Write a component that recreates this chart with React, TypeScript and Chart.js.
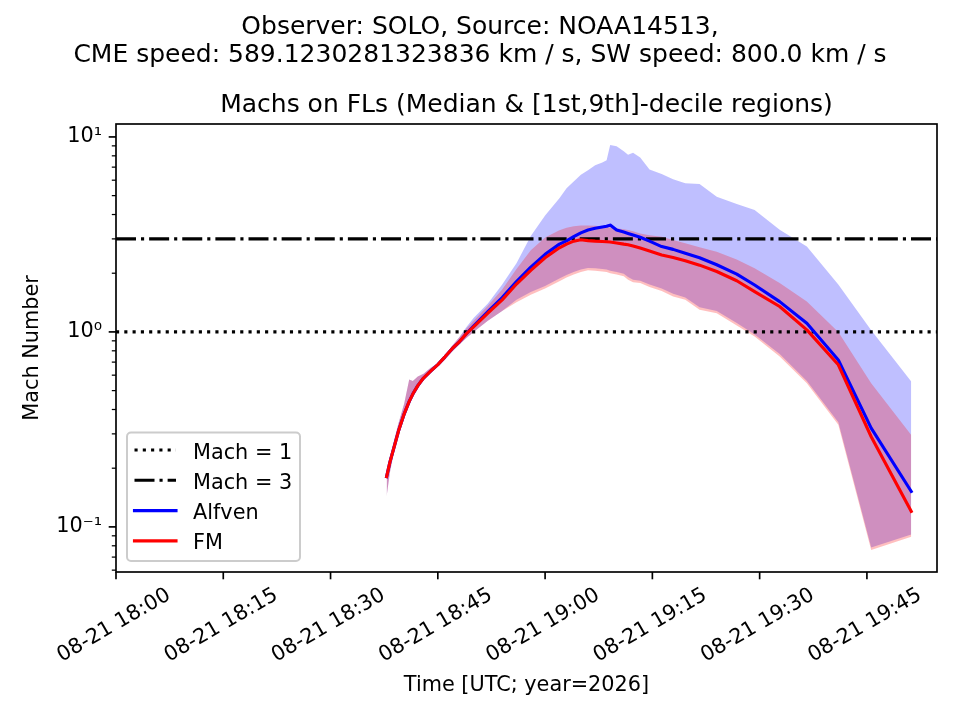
import React, { useEffect, useRef } from "react";
import { Chart, registerables } from "chart.js";

Chart.register(...registerables);

// ---------- text ----------
const SUPTITLE = [
  "Observer: SOLO, Source: NOAA14513,",
  "CME speed: 589.1230281323836 km / s, SW speed: 800.0 km / s",
];
const AX_TITLE = "Machs on FLs (Median & [1st,9th]-decile regions)";
const X_LABEL = "Time [UTC; year=2026]";
const Y_LABEL = "Mach Number";
const DATE_PREFIX = "08-21";
const START_HOUR = 18;

// ---------- axes ----------
const X_MIN = 0; // minutes after 18:00
const X_MAX = 114.8;
const Y_MIN = 0.0587;
const Y_MAX = 11.65;
const X_TICKS = [0, 15, 30, 45, 60, 75, 90, 105];
const Y_MAJOR = [0.1, 1, 10];
const Y_LABELS = ["10\u207B\u00B9", "10\u2070", "10\u00B9"];
const Y_MINOR = [0.06, 0.07, 0.08, 0.09, 0.2, 0.3, 0.4, 0.5, 0.6, 0.7, 0.8, 0.9, 2, 3, 4, 5, 6, 7, 8, 9];
const MACH_LEVELS = [1, 3];

// ---------- data (minutes after 18:00 UTC) ----------
const times = [
  37.84, 38.3, 38.8, 39.5, 40.3, 41.0, 41.5, 42.2, 43.0, 44.0,
  45.0, 46.0, 47.0, 48.0, 49.0, 50.0, 52.0, 54.0, 56.0, 58.0,
  60.0, 62.0, 63.0, 64.0, 65.0, 66.0, 67.0, 68.0, 68.6, 69.1,
  70.0, 71.0, 71.6, 72.3, 73.3, 74.6, 76.3, 77.9, 79.6, 81.6,
  84.0, 86.8, 89.3, 92.8, 96.6, 101.0, 105.6, 111.2,
];
const alfvenMedian = [
  0.181, 0.215, 0.25, 0.31, 0.38, 0.44, 0.48, 0.53, 0.58, 0.63,
  0.68, 0.745, 0.82, 0.89, 0.98, 1.07, 1.27, 1.5, 1.81, 2.15,
  2.5, 2.82, 2.93, 3.08, 3.22, 3.33, 3.4, 3.45, 3.48, 3.53,
  3.33, 3.25, 3.2, 3.14, 3.06, 2.92, 2.74, 2.65, 2.53, 2.4,
  2.21, 1.98, 1.74, 1.43, 1.108, 0.718, 0.321, 0.152,
];
const fmMedian = [
  0.181, 0.215, 0.25, 0.31, 0.38, 0.44, 0.48, 0.53, 0.58, 0.63,
  0.68, 0.745, 0.82, 0.89, 0.98, 1.06, 1.25, 1.46, 1.76, 2.07,
  2.4, 2.7, 2.82, 2.92, 2.97, 2.94, 2.92, 2.91, 2.9, 2.89,
  2.86, 2.82, 2.8, 2.76, 2.69, 2.6, 2.48, 2.41, 2.32, 2.2,
  2.04, 1.83, 1.61, 1.35, 1.024, 0.678, 0.29, 0.12,
];
const alfvenUpper = [
  0.19, 0.23, 0.27, 0.34, 0.43, 0.57, 0.56, 0.59, 0.61, 0.655,
  0.69, 0.76, 0.85, 0.94, 1.06, 1.18, 1.4, 1.75, 2.25, 3.1,
  3.95, 4.85, 5.45, 5.9, 6.4, 6.75, 7.15, 7.4, 7.6, 9.08,
  8.95, 8.45, 8.1, 8.3, 7.85, 6.8, 6.45, 6.06, 5.79, 5.74,
  4.94, 4.53, 4.22, 3.34, 2.74, 1.75, 1.02, 0.556,
];
const alfvenLower = [
  0.143, 0.19, 0.235, 0.295, 0.36, 0.42, 0.46, 0.51, 0.565, 0.615,
  0.665, 0.72, 0.79, 0.86, 0.93, 1.0, 1.14, 1.28, 1.46, 1.6,
  1.72, 1.88, 1.96, 2.03, 2.09, 2.13, 2.12, 2.1, 2.09, 2.06,
  2.03, 1.99, 1.91, 1.85, 1.83, 1.75, 1.67, 1.57, 1.5, 1.34,
  1.28, 1.11, 0.97, 0.77, 0.56, 0.344, 0.0785, 0.0915,
];
const fmUpper = [
  0.19, 0.23, 0.27, 0.34, 0.43, 0.57, 0.56, 0.59, 0.61, 0.655,
  0.69, 0.76, 0.85, 0.94, 1.04, 1.14, 1.36, 1.65, 2.1, 2.62,
  3.05, 3.32, 3.42, 3.48, 3.51, 3.51, 3.5, 3.47, 3.45, 3.43,
  3.4, 3.36, 3.33, 3.28, 3.2, 3.13, 3.08, 2.96, 2.85, 2.72,
  2.58, 2.35, 2.12, 1.78, 1.43, 1.0, 0.545, 0.296,
];
const fmLower = [
  0.143, 0.19, 0.235, 0.295, 0.36, 0.42, 0.46, 0.51, 0.565, 0.615,
  0.665, 0.72, 0.79, 0.86, 0.93, 1.0, 1.14, 1.28, 1.42, 1.55,
  1.67, 1.82, 1.9, 1.97, 2.03, 2.07, 2.06, 2.04, 2.03, 2.0,
  1.97, 1.93, 1.85, 1.8, 1.78, 1.7, 1.62, 1.52, 1.46, 1.3,
  1.247, 1.08, 0.946, 0.747, 0.545, 0.334, 0.0762, 0.089,
];

const FONT = "'DejaVu Sans', 'Liberation Sans', sans-serif";
const LW = 3.125;

const pts = (arr: number[]) => times.map((t, i) => ({ x: t, y: arr[i] }));
const hline = (v: number) => [
  { x: X_MIN, y: v },
  { x: X_MAX, y: v },
];

const fmtTime = (v: number) => {
  const total = START_HOUR * 60 + Math.round(v);
  const h = Math.floor(total / 60);
  const m = total % 60;
  return `${DATE_PREFIX} ${String(h).padStart(2, "0")}:${String(m).padStart(2, "0")}`;
};

const decorPlugin = {
  id: "mplDecor",
  afterDraw(chart: any) {
    const { ctx, chartArea: a, scales } = chart;
    const xs = scales.x;
    const ys = scales.y;
    const seg = (x1: number, y1: number, x2: number, y2: number) => {
      ctx.beginPath();
      ctx.moveTo(x1, y1);
      ctx.lineTo(x2, y2);
      ctx.stroke();
    };
    ctx.save();
    ctx.strokeStyle = "#000";
    ctx.setLineDash([]);
    ctx.lineCap = "butt";
    // major ticks
    ctx.lineWidth = 1.67;
    X_TICKS.forEach((v) => {
      const px = xs.getPixelForValue(v);
      seg(px, a.bottom, px, a.bottom + 7.3);
    });
    Y_MAJOR.forEach((v) => {
      const py = ys.getPixelForValue(v);
      seg(a.left - 7.3, py, a.left, py);
    });
    // minor ticks
    ctx.lineWidth = 1.25;
    Y_MINOR.forEach((v) => {
      const py = ys.getPixelForValue(v);
      seg(a.left - 4.2, py, a.left, py);
    });
    // frame
    ctx.lineWidth = 1.67;
    ctx.strokeStyle = "#000";
    ctx.strokeRect(a.left, a.top, a.right - a.left, a.bottom - a.top);

    // titles
    ctx.fillStyle = "#000";
    ctx.textAlign = "center";
    ctx.textBaseline = "alphabetic";
    ctx.font = `25px ${FONT}`;
    ctx.fillText(SUPTITLE[0], chart.width / 2, 33.5);
    ctx.fillText(SUPTITLE[1], chart.width / 2, 61.5);
    ctx.fillText(AX_TITLE, (a.left + a.right) / 2, 111.7);

    // legend
    const items = chart.data.datasets.filter((d: any) => d.label && !String(d.label).startsWith("_"));
    const bx = a.left + 11;
    const by = 432.5;
    const bw = 173;
    const rowH = 30.3;
    const bh = 128.5;
    const r = 4;
    ctx.beginPath();
    ctx.moveTo(bx + r, by);
    ctx.lineTo(bx + bw - r, by);
    ctx.arcTo(bx + bw, by, bx + bw, by + r, r);
    ctx.lineTo(bx + bw, by + bh - r);
    ctx.arcTo(bx + bw, by + bh, bx + bw - r, by + bh, r);
    ctx.lineTo(bx + r, by + bh);
    ctx.arcTo(bx, by + bh, bx, by + bh - r, r);
    ctx.lineTo(bx, by + r);
    ctx.arcTo(bx, by, bx + r, by, r);
    ctx.closePath();
    ctx.fillStyle = "rgba(255,255,255,0.8)";
    ctx.fill();
    ctx.strokeStyle = "#cccccc";
    ctx.lineWidth = 2;
    ctx.stroke();

    ctx.font = `20.8px ${FONT}`;
    ctx.textAlign = "left";
    items.forEach((d: any, i: number) => {
      const baseY = 458.5 + rowH * i;
      const hy = baseY - 8.5;
      ctx.strokeStyle = d.borderColor;
      ctx.lineWidth = d.borderWidth;
      const dash = d.borderDash || [];
      ctx.setLineDash(dash);
      ctx.lineCap = dash.length ? "butt" : "square";
      seg(bx + 7.5, hy, bx + 49, hy);
      ctx.setLineDash([]);
      ctx.fillStyle = "#000";
      ctx.fillText(d.label, bx + 66, baseY);
    });
    ctx.restore();
  },
};

export default function App() {
  const ref = useRef<HTMLCanvasElement | null>(null);

  useEffect(() => {
    if (!ref.current) return;
    const base = { pointRadius: 0, tension: 0, borderJoinStyle: "round" as const };
    const band = { ...base, borderWidth: 0, borderColor: "rgba(0,0,0,0)" };
    const chart = new Chart(ref.current, {
      type: "line",
      data: {
        datasets: [
          {
            ...base,
            label: `Mach = ${MACH_LEVELS[0]}`,
            data: hline(MACH_LEVELS[0]),
            borderColor: "#000000",
            borderWidth: LW,
            borderDash: [LW, 1.65 * LW],
            borderCapStyle: "butt",
            fill: false,
            order: 3,
          },
          {
            ...base,
            label: `Mach = ${MACH_LEVELS[1]}`,
            data: hline(MACH_LEVELS[1]),
            borderColor: "#000000",
            borderWidth: LW,
            borderDash: [6.4 * LW, 1.6 * LW, LW, 1.6 * LW],
            borderCapStyle: "butt",
            fill: false,
            order: 2,
          },
          {
            ...base,
            label: "Alfven",
            data: pts(alfvenMedian),
            borderColor: "#0000ff",
            borderWidth: LW,
            borderCapStyle: "square",
            fill: false,
            order: 1,
          },
          {
            ...base,
            label: "FM",
            data: pts(fmMedian),
            borderColor: "#ff0000",
            borderWidth: LW,
            borderCapStyle: "square",
            fill: false,
            order: 0,
          },
          {
            ...band,
            label: "_alfvenUpper",
            data: pts(alfvenUpper),
            fill: "+1",
            backgroundColor: "rgba(0,0,255,0.25)",
            order: 6,
          },
          {
            ...band,
            label: "_alfvenLower",
            data: pts(alfvenLower),
            fill: false,
            order: 7,
          },
          {
            ...band,
            label: "_fmUpper",
            data: pts(fmUpper),
            fill: "+1",
            backgroundColor: "rgba(255,0,0,0.25)",
            order: 4,
          },
          {
            ...band,
            label: "_fmLower",
            data: pts(fmLower),
            fill: false,
            order: 5,
          },
        ],
      },
      options: {
        animation: false,
        responsive: false,
        events: [],
        layout: { padding: { left: 0, right: 23, top: 124, bottom: 0 } },
        plugins: {
          legend: { display: false },
          tooltip: { enabled: false },
          title: { display: false },
        },
        scales: {
          x: {
            type: "linear",
            min: X_MIN,
            max: X_MAX,
            afterFit: (s: any) => {
              s.height = 148;
              s.paddingLeft = 0;
              s.paddingRight = 0;
            },
            afterBuildTicks: (s: any) => {
              s.ticks = X_TICKS.map((v) => ({ value: v }));
            },
            grid: { display: false, drawTicks: false },
            border: { display: false },
            ticks: {
              autoSkip: false,
              minRotation: 30,
              maxRotation: 30,
              labelOffset: 53,
              padding: 11,
              color: "#000",
              font: { family: FONT, size: 20.8 },
              callback: (v: any) => fmtTime(Number(v)),
            },
            title: {
              display: true,
              text: X_LABEL,
              color: "#000",
              font: { family: FONT, size: 20.8 },
              padding: { top: 0, bottom: 21.5 },
            },
          },
          y: {
            type: "logarithmic",
            min: Y_MIN,
            max: Y_MAX,
            afterFit: (s: any) => {
              s.width = 116;
              s.paddingTop = 0;
              s.paddingBottom = 0;
            },
            afterBuildTicks: (s: any) => {
              s.ticks = Y_MAJOR.map((v) => ({ value: v, major: true }));
            },
            grid: { display: false, drawTicks: false },
            border: { display: false },
            ticks: {
              autoSkip: false,
              padding: 14,
              color: "#000",
              font: { family: FONT, size: 20.8 },
              callback: (v: any) => {
                const i = Y_MAJOR.findIndex((m) => Math.abs(m - Number(v)) < 1e-9);
                return i >= 0 ? Y_LABELS[i] : "";
              },
            },
            title: {
              display: true,
              text: Y_LABEL,
              color: "#000",
              font: { family: FONT, size: 20.8 },
              padding: { top: 20.3, bottom: 0 },
            },
          },
        },
      },
      plugins: [decorPlugin],
    });
    return () => chart.destroy();
  }, []);

  return (
    <div style={{ position: "absolute", left: 0, top: 0, width: 960, height: 720, background: "#fff" }}>
      <canvas ref={ref} width={960} height={720} style={{ width: 960, height: 720, display: "block" }} />
    </div>
  );
}
